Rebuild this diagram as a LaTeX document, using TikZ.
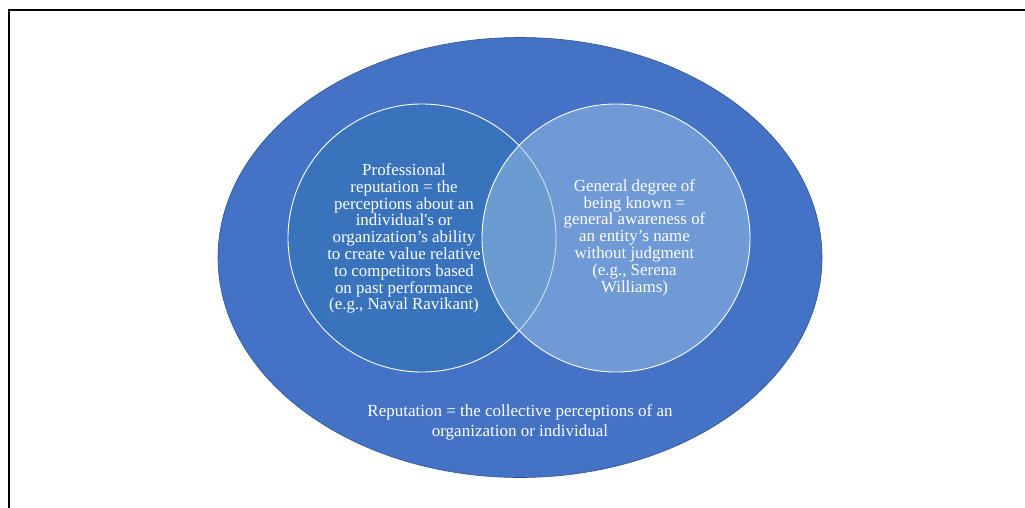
\documentclass[tikz,border=0pt]{standalone}
\usepackage{fontspec}
\usetikzlibrary{shapes.geometric}
\newfontfamily\tnr{Liberation Serif}
\definecolor{outerblue}{HTML}{4472C4}
\definecolor{outeredge}{HTML}{2F528F}
\definecolor{leftblue}{HTML}{2E75B6}
\definecolor{rightblue}{HTML}{9DC3E6}
\begin{document}
\begin{tikzpicture}[x=1pt,y=-1pt,
  setcircle/.style={circle, minimum size=268pt, inner sep=0pt, draw=white, line width=0.9pt, fill opacity=0.5, draw opacity=1},
  label/.style={text=white, font=\tnr\fontsize{16.9}{16.8}\selectfont, align=center, inner sep=0pt}]
  \useasboundingbox (0,0) rectangle (1025,508);
  \fill[white] (0,0) rectangle (1025,508);
  % frame lines (top and left)
  \coordinate (fl) at (9,508);
  \coordinate (ftl) at (9,10);
  \coordinate (fr) at (1025,10);
  \draw[black, line width=2pt] (fl) -- (ftl) -- (fr);
  % outer set
  \node[ellipse, minimum width=604pt, minimum height=440pt, inner sep=0pt, fill=outerblue, draw=outeredge, line width=0.6pt] (outer) at (520,257.5) {};
  % inner sets
  \node[setcircle, fill=leftblue] (prof) at (422,238) {};
  \node[setcircle, fill=rightblue] (known) at (616,238) {};
  % texts
  \node[label] (proftext) at (404,238.5) {Professional\\reputation = the\\perceptions about an\\individual's or\\organization’s ability\\to create value relative\\to competitors based\\on past performance\\(e.g., Naval Ravikant)};
  \node[label] (knowntext) at (634.5,237.5) {General degree of\\being known =\\general awareness of\\an entity’s name\\without judgment\\(e.g., Serena\\Williams)};
  \node[label, font=\tnr\fontsize{17}{20}\selectfont] (outertext) at (520,422) {Reputation = the collective perceptions of an\\organization or individual};
\end{tikzpicture}
\end{document}
